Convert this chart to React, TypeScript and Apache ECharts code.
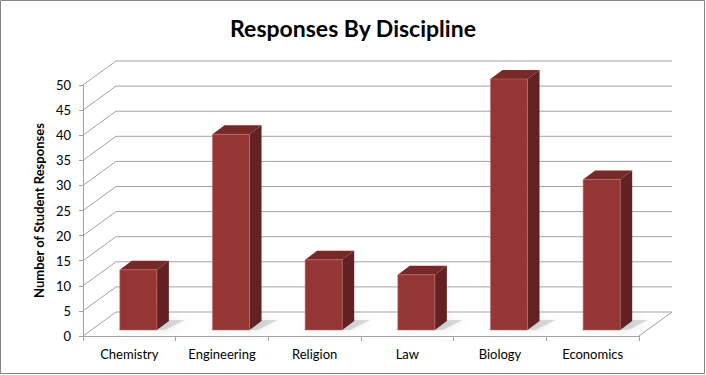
import React, { useEffect, useRef } from "react";
import * as echarts from "echarts";

const categories = ["Chemistry", "Engineering", "Religion", "Law", "Biology", "Economics"];
const responses = [12, 39, 14, 11, 50, 30];
const yTicks = [0, 5, 10, 15, 20, 25, 30, 35, 40, 45, 50];

const FONT = "Lato, 'Noto Sans', sans-serif";
const GRID_COLOR = "#a3a3a3";
const WALL_DX = 33;
const WALL_DY = -24;
const BAR_OX = 9;
const BAR_OY = -6;
const BAR_DX = 12;
const BAR_DY = -9;

export default function App() {
  const ref = useRef<HTMLDivElement>(null);

  useEffect(() => {
    if (!ref.current) return;
    const chart = echarts.init(ref.current, undefined, { renderer: "svg" });

    const option: any = {
      animation: false,
      backgroundColor: "#ffffff",
      title: {
        text: "Responses By Discipline",
        left: "center",
        top: 11,
        textStyle: { fontFamily: FONT, fontWeight: "bold", fontSize: 23, color: "#000" },
      },
      grid: { left: 83, right: 67, top: 85, bottom: 39 },
      xAxis: {
        type: "category",
        data: categories,
        axisLine: { show: true, lineStyle: { color: GRID_COLOR, width: 1 } },
        axisTick: { show: true, length: 5, lineStyle: { color: GRID_COLOR } },
        axisLabel: { color: "#000", fontSize: 13, fontFamily: FONT, margin: 11 },
        splitLine: { show: false },
      },
      yAxis: {
        type: "value",
        min: 0,
        max: 50,
        interval: 5,
        name: "Number of Student Responses",
        nameLocation: "middle",
        nameGap: 35,
        nameTextStyle: { color: "#000", fontSize: 13, fontWeight: "bold", fontFamily: FONT },
        axisLine: { show: true, lineStyle: { color: GRID_COLOR, width: 1 } },
        axisTick: { show: true, length: 4, lineStyle: { color: GRID_COLOR } },
        axisLabel: { color: "#000", fontSize: 13, fontFamily: FONT, margin: 12 },
        splitLine: { show: false },
      },
      graphic: [
        {
          type: "rect",
          shape: { x: 0.5, y: 0.5, width: 704, height: 373 },
          style: { fill: "none", stroke: "#868686", lineWidth: 1 },
          silent: true,
          z: 100,
        },
      ],
      series: [
        {
          type: "custom",
          name: "walls",
          clip: false,
          silent: true,
          z: 1,
          data: yTicks.map((t) => [0, t]),
          renderItem: (params: any, api: any) => {
            const v = api.value(1);
            const y = api.coord([0, v])[1];
            const cs = params.coordSys;
            const xl = cs.x;
            const xr = cs.x + cs.width;
            const children: any[] = [
              {
                type: "polyline",
                shape: {
                  points: [
                    [xl, y],
                    [xl + WALL_DX, y + WALL_DY],
                    [xr + WALL_DX, y + WALL_DY],
                  ],
                },
                style: { stroke: GRID_COLOR, lineWidth: 1, fill: "none" },
              },
            ];
            if (v === 0) {
              children.push({
                type: "line",
                shape: { x1: xr, y1: y, x2: xr + WALL_DX, y2: y + WALL_DY },
                style: { stroke: GRID_COLOR, lineWidth: 1 },
              });
            }
            return { type: "group", children };
          },
        },
        {
          type: "custom",
          name: "Responses",
          clip: false,
          z: 5,
          data: responses.map((v, i) => [i, v]),
          renderItem: (params: any, api: any) => {
            const idx = api.value(0);
            const v = api.value(1);
            const p0 = api.coord([idx, 0]);
            const p1 = api.coord([idx, v]);
            const band = api.size([1, 0])[0];
            const w = band * 0.4;
            const fl = p0[0] + BAR_OX - w / 2;
            const fr = fl + w;
            const fb = p0[1] + BAR_OY;
            const ft = p1[1] + BAR_OY;
            return {
              type: "group",
              children: [
                {
                  type: "polygon",
                  shape: {
                    points: [
                      [fl - 2, fb],
                      [fr + 8, fb],
                      [fr + BAR_DX + 16, fb + BAR_DY - 1],
                      [fl + BAR_DX + 4, fb + BAR_DY - 1],
                    ],
                  },
                  style: {
                    fill: "rgba(140,140,140,0.3)",
                    shadowBlur: 10,
                    shadowColor: "rgba(120,120,120,0.6)",
                  },
                },
                {
                  type: "polygon",
                  shape: {
                    points: [
                      [fr, ft],
                      [fr + BAR_DX, ft + BAR_DY],
                      [fr + BAR_DX, fb + BAR_DY],
                      [fr, fb],
                    ],
                  },
                  style: { fill: "#622222" },
                },
                {
                  type: "polygon",
                  shape: {
                    points: [
                      [fl, ft],
                      [fl + BAR_DX, ft + BAR_DY],
                      [fr + BAR_DX, ft + BAR_DY],
                      [fr, ft],
                    ],
                  },
                  style: { fill: "#752a29" },
                },
                {
                  type: "rect",
                  shape: { x: fl, y: ft, width: w, height: fb - ft },
                  style: {
                    fill: "#943634",
                    stroke: "rgba(200,110,108,0.7)",
                    lineWidth: 0.8,
                  },
                },
              ],
            };
          },
        },
      ],
    };

    chart.setOption(option);
    return () => chart.dispose();
  }, []);

  return (
    <div
      ref={ref}
      style={{ position: "fixed", left: 0, top: 0, width: 706, height: 375 }}
    />
  );
}
